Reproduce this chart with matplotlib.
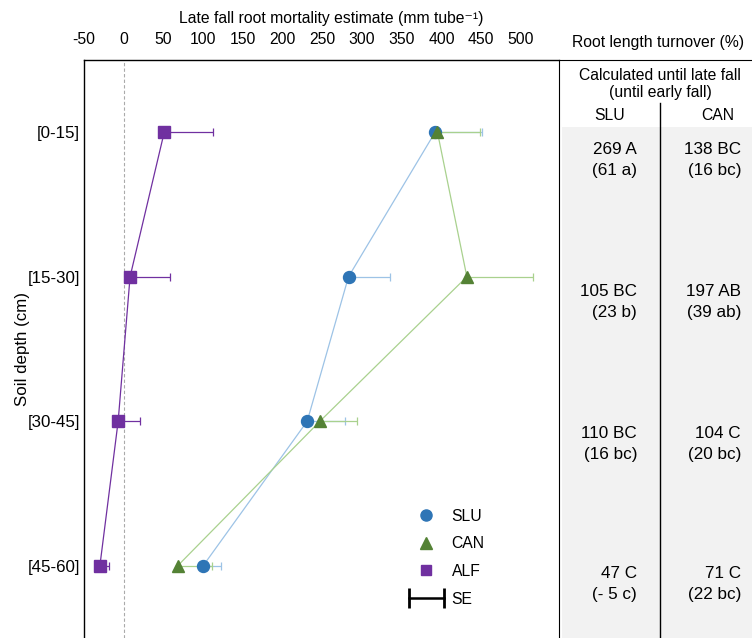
import numpy as np
import matplotlib.pyplot as plt
from matplotlib.lines import Line2D
from matplotlib.patches import Rectangle
from matplotlib.legend_handler import HandlerLine2D

plt.rcParams['font.family'] = ['Liberation Sans', 'DejaVu Sans']
plt.rcParams['axes.unicode_minus'] = False
plt.rcParams['font.size'] = 11.3

# data
depth = ["[0-15]", "[15-30]", "[30-45]", "[45-60]"]
slu = [392, 283, 231, 100]
slu_se = [59, 52, 47, 22]
can = [395, 432, 247, 68]
can_se = [53, 83, 47, 43]
alf = [51, 8, -7, -30]
alf_se = [61, 50, 28, 11]

xticks = list(range(-50, 501, 50))

# table on the right
slu_late = ["269 A", "105 BC", "110 BC", "47 C"]
slu_early = ["(61 a)", "(23 b)", "(16 bc)", "(- 5 c)"]
can_late = ["138 BC", "197 AB", "104 C", "71 C"]
can_early = ["(16 bc)", "(39 ab)", "(20 bc)", "(22 bc)"]

W, H = 752, 638
fig = plt.figure(figsize=(W / 100, H / 100), dpi=100)

ax = fig.add_axes([84 / W, 0, (559 - 84) / W, (H - 60) / H])
y = np.arange(len(depth)) + 0.5

series = [
    (slu, slu_se, 'o', '#2E75B6', '#9DC3E6', 'SLU', 8.6, 8),
    (can, can_se, '^', '#548235', '#A9D18E', 'CAN', 9, 8.3),
    (alf, alf_se, 's', '#7030A0', '#7030A0', 'ALF', 8.3, 6.8),
]
handles = []
for vals, se, mk, col, lcol, name, ms, lms in series:
    vals = np.array(vals)
    ax.plot(vals, y, color=lcol, lw=0.9, zorder=1)
    ax.errorbar(vals, y, xerr=[np.zeros(len(se)), se], fmt='none',
                ecolor=lcol, elinewidth=0.9, capsize=3, capthick=0.9, zorder=2)
    ax.plot(vals, y, ls='none', marker=mk, ms=ms, color=col, mec=col, zorder=3)
    handles.append(Line2D([], [], ls='none', marker=mk, ms=lms, color=col, label=name))

ax.axvline(0, color='#aaaaaa', lw=0.8, ls=(0, (3, 2)), zorder=0)

ax.set_xlim(-50, 548)
ax.set_ylim(4, 0)
ax.set_yticks(y)
ax.set_yticklabels(depth, fontsize=12.2)
ax.set_xticks(xticks)
ax.xaxis.tick_top()
ax.xaxis.set_label_position('top')
ax.tick_params(length=0, pad=3)
ax.tick_params(axis='x', pad=9)
ax.set_xlabel('Late fall root mortality estimate (mm tube\u207b\u00b9)', labelpad=7, x=0.52)
ax.set_ylabel('Soil depth (cm)', labelpad=-2, fontsize=12.2)
for s in ['bottom', 'right']:
    ax.spines[s].set_visible(False)
for s in ['top', 'left']:
    ax.spines[s].set_linewidth(1.0)

se_handle = Line2D([], [], color='black', lw=1.8, marker='|', ms=14, mew=2.0, label='SE')
handles.append(se_handle)
ax.legend(handles=handles, loc='lower left', bbox_to_anchor=(0.645, 0.03),
          frameon=False, handletextpad=0.2, labelspacing=0.8, handlelength=2.8,
          handler_map={se_handle: HandlerLine2D(numpoints=2)})

# right-hand table panel, pixel coordinates
tx = fig.add_axes([559 / W, 0, (W - 559) / W, (H - 60) / H])
tx.set_xlim(559, W)
tx.set_ylim(H, 60)
tx.set_xticks([])
tx.set_yticks([])
for s in ['bottom', 'right']:
    tx.spines[s].set_visible(False)
tx.add_patch(Rectangle((562, 127), W - 562, H - 127, color='#f2f2f2', lw=0, zorder=0))
tx.plot([660, 660], [103, H], color='black', lw=1.0, zorder=2, clip_on=False)

fig.text(658 / W, 1 - 42 / H, 'Root length turnover (%)', ha='center', va='center')
tx.text(660, 75, 'Calculated until late fall', ha='center', va='center')
tx.text(660, 93, '(until early fall)', ha='center', va='center')
tx.text(610, 115, 'SLU', ha='center', va='center')
tx.text(718, 115, 'CAN', ha='center', va='center')

row_y = [150, 291, 433, 574]
for i, ry in enumerate(row_y):
    tx.text(637, ry, slu_late[i], ha='right', va='center', fontsize=12.3)
    tx.text(637, ry + 21, slu_early[i], ha='right', va='center', fontsize=12.3)
    tx.text(741, ry, can_late[i], ha='right', va='center', fontsize=12.3)
    tx.text(741, ry + 21, can_early[i], ha='right', va='center', fontsize=12.3)

fig.savefig('out.png', dpi=100)
